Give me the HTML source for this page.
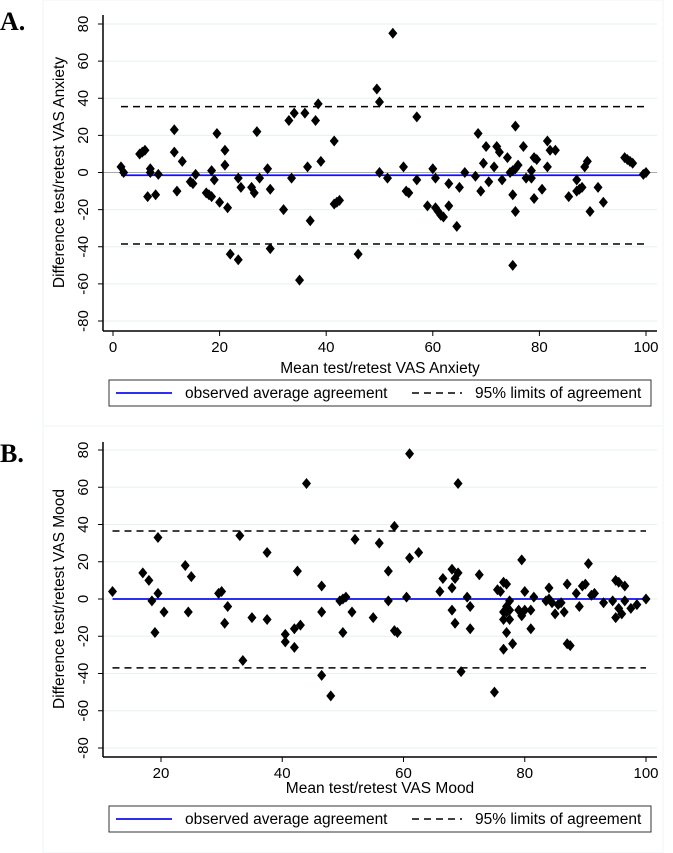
<!DOCTYPE html>
<html><head><meta charset="utf-8"><style>
body{margin:0;background:#fff;}
svg{display:block;font-family:"Liberation Sans",sans-serif;}
</style></head><body>
<svg id="fig" width="673" height="853" viewBox="0 0 673 853" xmlns="http://www.w3.org/2000/svg">
<rect x="43" y="0" width="620" height="427" fill="#fff" stroke="#eef4f4" stroke-width="1"/>
<rect x="43" y="426" width="620" height="427" fill="#fff" stroke="#eef4f4" stroke-width="1"/>
<text x="0" y="30" font-family="Liberation Serif,serif" font-weight="bold" font-size="26">A.</text>
<text x="0" y="462" font-family="Liberation Serif,serif" font-weight="bold" font-size="26">B.</text>
<g id="pa"></g>
<g id="pb"></g>
</svg>
<script>
const yTicks=[80,60,40,20,0,-20,-40,-60,-80];
const aXTicks=[0,20,40,60,80,100];
const bXTicks=[20,40,60,80,100];
const aMean=-1.5, aUpper=35.5, aLower=-38.5;
const bMean=0, bUpper=36.5, bLower=-37;
const aX=[1.5,2,5,5.5,6,6.5,7,7,8,8.5,11.5,11.5,12,13,14.5,15,15.5,17.5,18,18.5,18.5,19,19.5,20,21,21,21.5,22,23.5,23.5,24,26,26.5,27,27.5,29,29.5,29.5,32,33,33.5,34,35,36,36.5,37,38,38.5,39,41.5,41.5,42,42.5,46,49.5,50,50,52.5,51.5,54.5,55,55.5,57,57,59,60,60.5,60.5,61,61.5,62,63,63,64.5,65,66,68,68.5,69,69.5,70,70.5,71.5,72,72.5,73,74,74.5,75,75,75,75.5,75.5,75.5,76,77,77.5,78.5,78.5,79,79,79.5,80.5,81.5,81.5,82,83,85.5,87,87,87.5,88,88.5,89,89.5,91,92,96,96.5,97,97.5,99.5,100];
const aY=[3,0,10,11,12,-13,2,0,-12,-1,23,11,-10,6,-5,-6,-1,-11,-12,1,-13,-4,21,-16,12,4,-19,-44,-47,-3,-8,-8,-11,22,-3,2,-9,-41,-20,28,-3,32,-58,32,3,-26,28,37,6,17,-17,-16,-15,-44,45,38,0,75,-3,3,-10,-11,30,-4,-18,2,-3,-19,-21,-23,-24,-6,-18,-29,-8,0,-2,21,-10,5,14,-5,3,14,11,-4,8,0,1,-12,-50,25,-21,2,4,14,-3,1,-3,8,-14,7,-9,17,3,12,12,-13,-4,-10,-9,-8,3,6,-21,-8,-16,8,7,6,5,-1,0];
const bX=[12,17,18,18.5,19,19.5,19.5,20.5,24,24.5,25,29.5,30,30.5,31,33,33.5,35,37.5,37.5,40.5,40.5,42,42,42.5,43,44,46.5,46.5,46.5,48,49.5,50,50,50.5,51.5,52,55,56,57.5,57.5,58.5,58.5,59,60.5,61,61,62.5,66,66.5,68,68,68,68.5,68.5,69,69,69.5,70.5,71,71,72.5,75,75.5,76,76.5,76.5,76.5,76.5,77,77,77,77,77.5,77.5,77.5,78,79,79.5,79.5,80,80,81,81,81.5,83.5,84,84,84.5,85,85.5,86,86.5,87,87,87.5,88.5,89,89.5,90,90.5,91,91.5,93,94.5,95,95,95.5,95.5,96,96.5,96.5,97.5,98.5,100];
const bY=[4,14,10,-1,-18,33,3,-7,18,-7,12,3,4,-13,-4,34,-33,-10,25,-11,-19,-23,-16,-26,15,-14,62,7,-7,-41,-52,-1,-18,0,1,-7,32,-10,30,15,-1,39,-17,-18,1,78,22,25,4,11,16,6,-6,-13,11,14,62,-39,1,-4,-16,13,-50,5,4,-7,-11,9,-27,8,-4,-7,-18,-1,-11,-6,-24,-6,-9,21,4,-6,-6,-16,1,-1,6,0,-2,-8,-3,-2,-7,8,-24,-25,3,-4,7,8,19,2,3,-2,-1,-10,10,9,-5,-8,7,-1,-5,-3,0];
const NS='http://www.w3.org/2000/svg';
function mk(p,tag,at){const e=document.createElementNS(NS,tag);for(const k in at)e.setAttribute(k,at[k]);p.appendChild(e);return e;}
function panel(g,cfg){
 const sx=v=>cfg.x0px+(v-cfg.x0)*(cfg.x1px-cfg.x0px)/(cfg.x1-cfg.x0);
 const sy=v=>cfg.y0px-(v)*(cfg.y0px-cfg.y80px)/80;
 yTicks.forEach(t=>{
  const l=mk(g,'line',{x1:104,x2:657,y1:sy(t),y2:sy(t),stroke:'#e6f0f1','stroke-width':1});
  
  
  const tk=mk(g,'line',{x1:98,x2:103,y1:sy(t),y2:sy(t),stroke:'#000'});
  
  
  const tx=mk(g,'text',{x:0,y:0,'font-size':15,'text-anchor':'middle',transform:`translate(${88},${sy(t)}) rotate(-90)`});
  tx.textContent=t;
  
  
 });
 if(cfg.zeroGrey){const z=mk(g,'line',{x1:104,x2:657,y1:sy(0),y2:sy(0),stroke:'#aaa','stroke-width':1});
  
  }
 const ax=mk(g,'line',{x1:103,x2:103,y1:cfg.axisTop,y2:cfg.axisY,stroke:'#000','stroke-width':1.5});
 
 
 const axx=mk(g,'line',{x1:103,x2:657,y1:cfg.axisY,y2:cfg.axisY,stroke:'#000','stroke-width':1.5});
 
 
 cfg.xt.forEach(t=>{
  const tk=mk(g,'line',{x1:sx(t),x2:sx(t),y1:cfg.axisY,y2:cfg.axisY+5,stroke:'#000'});
  
  
  const tx=mk(g,'text',{x:sx(t),y:cfg.axisY+21,'font-size':15,'text-anchor':'middle'});
  tx.textContent=t;
  
  
 });
 const xmin=Math.min(...cfg.xs), xmax=Math.max(...cfg.xs);
 [cfg.upper,cfg.lower].forEach(v=>{
  const l=mk(g,'line',{x1:sx(xmin),x2:sx(xmax),y1:sy(v),y2:sy(v),stroke:'#000','stroke-width':1.5,'stroke-dasharray':'7,5'});
  
  
 });
 const m=mk(g,'line',{x1:sx(xmin),x2:sx(xmax),y1:sy(cfg.mean),y2:sy(cfg.mean),stroke:'#1010ee','stroke-width':1.8});
 
 
 cfg.xs.forEach((xv,i)=>{
  const cx=sx(xv), cy=sy(cfg.ys[i]);
  const p=mk(g,'polygon',{points:`${cx},${cy-5.5} ${cx+4.5},${cy} ${cx},${cy+5.5} ${cx-4.5},${cy}`,fill:'#000'});
  
  
 });
 const yt=mk(g,'text',{x:0,y:0,'font-size':15.5,'text-anchor':'middle',transform:`translate(${64},${cfg.y0px}) rotate(-90)`});
 yt.textContent=cfg.ytitle;
 
 
 const xt=mk(g,'text',{x:380,y:cfg.xtitleY,'font-size':15.5,'text-anchor':'middle'});
 xt.textContent=cfg.xtitle;
 
 
 const lg=mk(g,'g',{});
 
 
 mk(lg,'rect',{x:109,y:cfg.legY,width:542,height:26,fill:'#fff',stroke:'#333','stroke-width':1});
 const l1=mk(lg,'line',{x1:116,x2:172,y1:cfg.legY+13,y2:cfg.legY+13,stroke:'#1010ee','stroke-width':1.8});
 
 
 const t1=mk(lg,'text',{x:185,y:cfg.legY+18,'font-size':15.5});
 t1.textContent='observed average agreement';
 
 
 const l2=mk(lg,'line',{x1:412,x2:462,y1:cfg.legY+13,y2:cfg.legY+13,stroke:'#000','stroke-width':1.5,'stroke-dasharray':'7,5'});
 
 
 const t2=mk(lg,'text',{x:475,y:cfg.legY+18,'font-size':15.5});
 t2.textContent='95% limits of agreement';
 
 
}
panel(document.getElementById('pa'),{x0:0,x1:100,x0px:113,x1px:646,y0px:172.5,y80px:24,axisTop:15,axisY:331,xt:aXTicks,xs:aX,ys:aY,mean:aMean,upper:aUpper,lower:aLower,zeroGrey:true,ytitle:'Difference test/retest VAS Anxiety',xtitle:'Mean test/retest VAS Anxiety',xtitleY:373,legY:380});
panel(document.getElementById('pb'),{x0:20,x1:100,x0px:161,x1px:646,y0px:599,y80px:450,axisTop:442,axisY:757,xt:bXTicks,xs:bX,ys:bY,mean:bMean,upper:bUpper,lower:bLower,zeroGrey:false,ytitle:'Difference test/retest VAS Mood',xtitle:'Mean test/retest VAS Mood',xtitleY:793,legY:806});
</script>
</body></html>
